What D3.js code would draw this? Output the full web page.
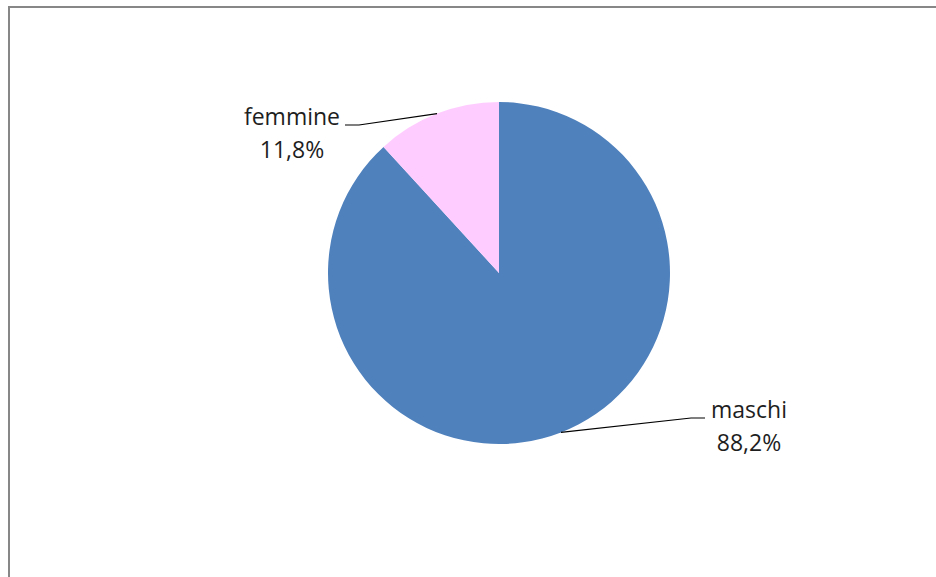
<!DOCTYPE html>
<html>
<head>
<meta charset="utf-8">
<script src="https://cdn.jsdelivr.net/npm/d3@7"></script>
<style>
  body { margin: 0; background: #fff; }
  svg { display: block; }
  .lbl { font-family: "Open Sans", sans-serif; font-size: 23px; fill: #1e1e1e; }
</style>
</head>
<body>
<div id="chart"></div>
<script>
const categories = ['maschi', 'femmine'];
const values = [88.2, 11.8];
const colors = ['#4f81bd', '#ffccff'];
const valueLabels = ['88,2%', '11,8%'];

document.addEventListener('DOMContentLoaded', function () {
  const width = 936, height = 577;
  const cx = 499, cy = 273, r = 171;

  const svg = d3.select('#chart')
    .append('svg')
      .attr('width', width)
      .attr('height', height);

  // chart frame (only top and left edges are visible in the crop)
  svg.append('path')
    .attr('d', 'M9,577V7H936')
    .attr('fill', 'none')
    .attr('stroke', '#878787')
    .attr('stroke-width', 2);

  const pie = d3.pie().sort(null).value(d => d.value);
  const arc = d3.arc().innerRadius(0).outerRadius(r);

  const data = categories.map((c, i) => ({ name: c, value: values[i], color: colors[i], label: valueLabels[i] }));
  const arcs = pie(data);

  const g = svg.append('g').attr('transform', `translate(${cx},${cy})`);

  g.selectAll('.slice')
    .data(arcs)
    .enter()
    .append('path')
      .attr('class', 'slice')
      .attr('d', arc)
      .attr('fill', d => d.data.color);

  // label placement relative to pie centre: text x, first baseline y, line end x, side
  const placement = {
    maschi: { tx: 250, ty: 145, lx: 206, side: 1 },
    femmine: { tx: -207, ty: -148, lx: -154, side: -1 }
  };

  arcs.forEach(d => {
    const p = placement[d.data.name];
    const mid = (d.startAngle + d.endAngle) / 2;
    const ex = r * Math.sin(mid), ey = -r * Math.cos(mid);
    const ly = p.ty;
    g.append('polyline')
      .attr('points', [[ex, ey], [p.lx - p.side * 14, ly], [p.lx, ly]].map(q => q.join(',')).join(' '))
      .attr('fill', 'none')
      .attr('stroke', '#000')
      .attr('stroke-width', 1.2);

    const t = g.append('text')
      .attr('class', 'lbl')
      .attr('text-anchor', 'middle');
    t.append('tspan').attr('x', p.tx).attr('y', p.ty).text(d.data.name);
    t.append('tspan').attr('x', p.tx).attr('y', p.ty + 33).text(d.data.label);
  });
});
</script>
</body>
</html>
